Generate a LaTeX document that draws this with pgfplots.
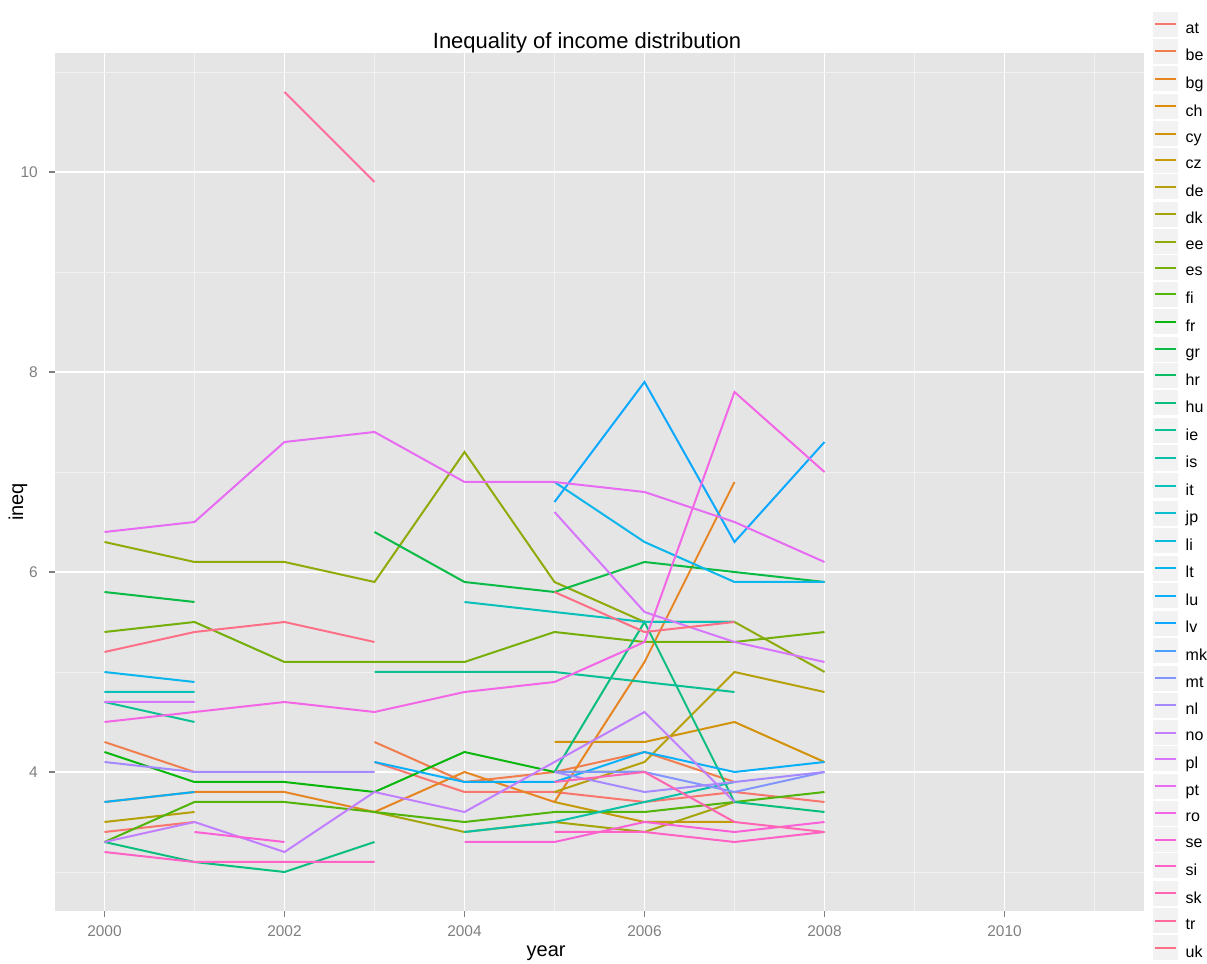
\documentclass[border=0pt]{standalone}
\usepackage{pgfplots}
\pgfplotsset{compat=1.18}
\usepackage{fontspec}
\setmainfont{Liberation Sans}
\definecolor{panelgrey}{HTML}{E5E5E5}
\definecolor{gridminor}{HTML}{F2F2F2}
\definecolor{grey50}{HTML}{7F7F7F}
\definecolor{keygrey}{HTML}{F2F2F2}
% ggplot2 hue palette: hcl(h, c=100, l=65)
\newcommand\hclcol[2]{%
  \pgfmathsetmacro\hclU{100*cos(#2)/845+0.197840}%
  \pgfmathsetmacro\hclV{100*sin(#2)/845+0.468336}%
  \pgfmathsetmacro\hclX{0.340466*9*\hclU/(4*\hclV)}%
  \pgfmathsetmacro\hclZ{0.340466*(12-3*\hclU-20*\hclV)/(4*\hclV)}%
  \pgfmathsetmacro\hclRl{3.2404542*\hclX-1.5371385*0.340466-0.4985314*\hclZ}%
  \pgfmathsetmacro\hclGl{-0.9692660*\hclX+1.8760108*0.340466+0.0415560*\hclZ}%
  \pgfmathsetmacro\hclBl{0.0556434*\hclX-0.2040259*0.340466+1.0572252*\hclZ}%
  \pgfmathsetmacro\hclR{min(1,max(0,1.055*exp(ln(max(\hclRl,0.0031308))/2.4)-0.055))}%
  \pgfmathsetmacro\hclG{min(1,max(0,1.055*exp(ln(max(\hclGl,0.0031308))/2.4)-0.055))}%
  \pgfmathsetmacro\hclB{min(1,max(0,1.055*exp(ln(max(\hclBl,0.0031308))/2.4)-0.055))}%
  \definecolor{#1}{rgb}{\hclR,\hclG,\hclB}%
}
\hclcol{cat}{15}
\hclcol{cbe}{25.286}
\hclcol{cbg}{35.571}
\hclcol{cch}{45.857}
\hclcol{ccy}{56.143}
\hclcol{ccz}{66.429}
\hclcol{cde}{76.714}
\hclcol{cdk}{87.0}
\hclcol{cee}{97.286}
\hclcol{ces}{107.571}
\hclcol{cfi}{117.857}
\hclcol{cfr}{128.143}
\hclcol{cgr}{138.429}
\hclcol{chr}{148.714}
\hclcol{chu}{159.0}
\hclcol{cie}{169.286}
\hclcol{cis}{179.571}
\hclcol{cit}{189.857}
\hclcol{cjp}{200.143}
\hclcol{cli}{210.429}
\hclcol{clt}{220.714}
\hclcol{clu}{231.0}
\hclcol{clv}{241.286}
\hclcol{cmk}{251.571}
\hclcol{cmt}{261.857}
\hclcol{cnl}{272.143}
\hclcol{cno}{282.429}
\hclcol{cpl}{292.714}
\hclcol{cpt}{303.0}
\hclcol{cro}{313.286}
\hclcol{cse}{323.571}
\hclcol{csi}{333.857}
\hclcol{csk}{344.143}
\hclcol{ctr}{354.429}
\hclcol{cuk}{364.714}
\begin{document}
\begin{tikzpicture}
\useasboundingbox (-41.25pt,-39.75pt) rectangle (864pt,683.25pt);
\begin{axis}[
  scale only axis, width=816.75pt, height=643.5pt,
  xmin=1999.45, xmax=2011.55, ymin=2.61, ymax=11.19,
  axis background/.style={fill=panelgrey},
  axis line style={draw=none},
  xtick={2000,2002,2004,2006,2008,2010}, ytick={4,6,8,10},
  minor xtick={2001,2003,2005,2007,2009,2011}, minor ytick={3,5,7,9,11},
  grid=both,
  major grid style={white, line width=1.1pt},
  minor grid style={gridminor, line width=0.6pt},
  tick align=outside, tick pos=left,
  major tick length=4.5pt, minor tick length=0pt,
  tick style={grey50, line width=0.8pt},
  /pgf/number format/assume math mode=true,
  x tick label style={/pgf/number format/1000 sep={}},
  ticklabel style={font=\fontsize{11.6}{13}\selectfont, text=grey50},
  xticklabel style={anchor=north, inner sep=0pt, yshift=-6pt},
  yticklabel style={anchor=east, inner sep=0pt, xshift=-8.25pt},
  xlabel={year}, ylabel={ineq},
  xlabel style={font=\fontsize{15}{18}\selectfont, at={(axis description cs:0.451,-0.0536)}, anchor=base},
  ylabel style={font=\fontsize{15}{18}\selectfont, at={(axis description cs:-0.034,0.4767)}, anchor=center},
  title={Inequality of income distribution},
  every axis title shift=0pt,
  title style={font=\fontsize{16.5}{19}\selectfont, at={(axis description cs:0.4885,1.0047)}, anchor=base},
  unbounded coords=jump,
  every axis plot/.append style={line width=1.5pt},
  legend image code/.code={%
    \path[draw=none, fill=none] (0pt,-6.15pt) rectangle (18.75pt,13.35pt);
    \path[draw=none, fill=keygrey] (0pt,-5.78pt) rectangle (18.75pt,12.98pt);
    \draw[#1, line width=1.5pt] (1.5pt,3.6pt) -- (17.25pt,3.6pt);
  },
  legend cell align=left,
  legend style={at={(axis description cs:1.0083,1.0484)}, anchor=north west,
    draw=none, fill=none, inner sep=0pt, outer sep=0pt,
    font=\fontsize{12}{14}\selectfont, row sep=0.2pt, column sep=3.75pt},
  legend entries={at,be,bg,ch,cy,cz,de,dk,ee,es,fi,fr,gr,hr,hu,ie,is,it,jp,li,lt,lu,lv,mk,mt,nl,no,pl,pt,ro,se,si,sk,tr,uk},
]
\addplot[cat] coordinates {(2000,3.4) (2001,3.5) (2002,nan) (2003,4.1) (2004,3.8) (2005,3.8) (2006,3.7) (2007,3.8) (2008,3.7)};
\addplot[cbe] coordinates {(2000,4.3) (2001,4.0) (2002,nan) (2003,4.3) (2004,3.9) (2005,4.0) (2006,4.2) (2007,3.9)};
\addplot[cbg] coordinates {(2000,3.7) (2001,3.8) (2002,3.8) (2003,3.6) (2004,4.0) (2005,3.7) (2006,5.1) (2007,6.9)};
\addlegendimage{cch}
\addplot[ccy] coordinates {(2005,4.3) (2006,4.3) (2007,4.5) (2008,4.1)};
\addplot[ccz] coordinates {(2005,3.7) (2006,3.5) (2007,3.5)};
\addplot[cde] coordinates {(2000,3.5) (2001,3.6) (2002,nan) (2005,3.8) (2006,4.1) (2007,5.0) (2008,4.8)};
\addplot[cdk] coordinates {(2003,3.6) (2004,3.4) (2005,3.5) (2006,3.4) (2007,3.7)};
\addplot[cee] coordinates {(2000,6.3) (2001,6.1) (2002,6.1) (2003,5.9) (2004,7.2) (2005,5.9) (2006,5.5) (2007,5.5) (2008,5.0)};
\addplot[ces] coordinates {(2000,5.4) (2001,5.5) (2002,5.1) (2003,5.1) (2004,5.1) (2005,5.4) (2006,5.3) (2007,5.3) (2008,5.4)};
\addplot[cfi] coordinates {(2000,3.3) (2001,3.7) (2002,3.7) (2003,3.6) (2004,3.5) (2005,3.6) (2006,3.6) (2007,3.7) (2008,3.8)};
\addplot[cfr] coordinates {(2000,4.2) (2001,3.9) (2002,3.9) (2003,3.8) (2004,4.2) (2005,4.0) (2006,4.0)};
\addplot[cgr] coordinates {(2000,5.8) (2001,5.7) (2002,nan) (2003,6.4) (2004,5.9) (2005,5.8) (2006,6.1) (2007,6.0) (2008,5.9)};
\addlegendimage{chr}
\addplot[chu] coordinates {(2000,3.3) (2001,3.1) (2002,3.0) (2003,3.3) (2004,nan) (2005,4.0) (2006,5.5) (2007,3.7) (2008,3.6)};
\addplot[cie] coordinates {(2000,4.7) (2001,4.5) (2002,nan) (2003,5.0) (2004,5.0) (2005,5.0) (2006,4.9) (2007,4.8)};
\addplot[cis] coordinates {(2004,3.4) (2005,3.5) (2006,3.7) (2007,3.9)};
\addplot[cit] coordinates {(2000,4.8) (2001,4.8) (2002,nan) (2004,5.7) (2005,5.6) (2006,5.5) (2007,5.5)};
\addlegendimage{cjp}
\addlegendimage{cli}
\addplot[clt] coordinates {(2000,5.0) (2001,4.9) (2002,nan) (2005,6.9) (2006,6.3) (2007,5.9) (2008,5.9)};
\addplot[clu] coordinates {(2000,3.7) (2001,3.8) (2002,nan) (2003,4.1) (2004,3.9) (2005,3.9) (2006,4.2) (2007,4.0) (2008,4.1)};
\addplot[clv] coordinates {(2005,6.7) (2006,7.9) (2007,6.3) (2008,7.3)};
\addlegendimage{cmk}
\addplot[cmt] coordinates {(2005,4.0) (2006,4.0) (2007,3.8) (2008,4.0)};
\addplot[cnl] coordinates {(2000,4.1) (2001,4.0) (2002,4.0) (2003,4.0) (2004,nan) (2005,4.0) (2006,3.8) (2007,3.9) (2008,4.0)};
\addplot[cno] coordinates {(2000,3.3) (2001,3.5) (2002,3.2) (2003,3.8) (2004,3.6) (2005,4.1) (2006,4.6) (2007,3.7)};
\addplot[cpl] coordinates {(2000,4.7) (2001,4.7) (2002,nan) (2005,6.6) (2006,5.6) (2007,5.3) (2008,5.1)};
\addplot[cpt] coordinates {(2000,6.4) (2001,6.5) (2002,7.3) (2003,7.4) (2004,6.9) (2005,6.9) (2006,6.8) (2007,6.5) (2008,6.1)};
\addplot[cro] coordinates {(2000,4.5) (2001,4.6) (2002,4.7) (2003,4.6) (2004,4.8) (2005,4.9) (2006,5.3) (2007,7.8) (2008,7.0)};
\addplot[cse] coordinates {(2001,3.4) (2002,3.3) (2003,nan) (2004,3.3) (2005,3.3) (2006,3.5) (2007,3.4) (2008,3.5)};
\addplot[csi] coordinates {(2000,3.2) (2001,3.1) (2002,3.1) (2003,3.1) (2004,nan) (2005,3.4) (2006,3.4) (2007,3.3) (2008,3.4)};
\addplot[csk] coordinates {(2005,3.9) (2006,4.0) (2007,3.5) (2008,3.4)};
\addplot[ctr] coordinates {(2002,10.8) (2003,9.9)};
\addplot[cuk] coordinates {(2000,5.2) (2001,5.4) (2002,5.5) (2003,5.3) (2004,nan) (2005,5.8) (2006,5.4) (2007,5.5)};
\end{axis}
\end{tikzpicture}
\end{document}
